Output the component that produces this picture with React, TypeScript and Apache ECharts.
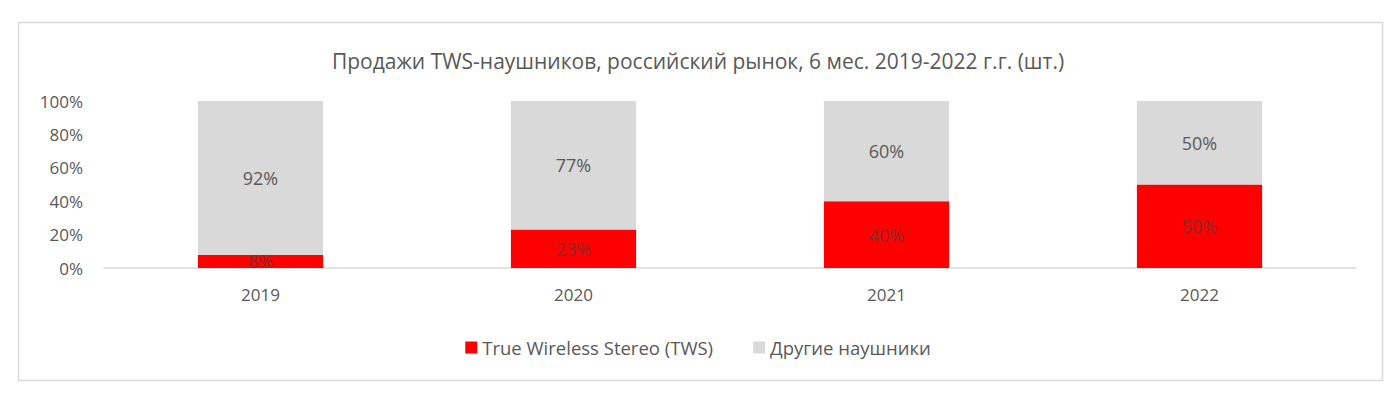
import React, { useEffect, useRef } from "react";
import * as echarts from "echarts";

const categories = ["2019", "2020", "2021", "2022"];
const twsValues = [8, 23, 40, 50];
const otherValues = [92, 77, 60, 50];
const yTicks = [0, 20, 40, 60, 80, 100];

const FONT = "'Open Sans', 'Noto Sans', sans-serif";

export default function App() {
  const ref = useRef<HTMLDivElement>(null);
  useEffect(() => {
    if (!ref.current) return;
    const chart = echarts.init(ref.current, undefined, { renderer: "svg" });
    chart.setOption({
      animation: false,
      backgroundColor: "#ffffff",
      textStyle: { fontFamily: FONT },
      title: {
        text: "Продажи TWS-наушников, российский рынок, 6 мес. 2019-2022 г.г. (шт.)",
        left: "center",
        top: 45,
        textStyle: { fontFamily: FONT, fontSize: 21, fontWeight: "normal", color: "#595959" },
      },
      graphic: [
        {
          type: "rect",
          shape: { x: 18.5, y: 22.5, width: 1364, height: 358 },
          style: { fill: "none", stroke: "#d9d9d9", lineWidth: 1.5 },
          silent: true,
        },
      ],
      legend: {
        bottom: 31,
        left: "center",
        itemWidth: 12,
        itemHeight: 12,
        itemGap: 40,
        icon: "rect",
        textStyle: { fontFamily: FONT, fontSize: 18.5, color: "#595959" },
        data: ["True Wireless Stereo (TWS)", "Другие наушники"],
      },
      grid: { left: 104, right: 40, top: 101, bottom: 125 },
      xAxis: {
        type: "category",
        data: categories,
        axisLine: { lineStyle: { color: "#d9d9d9", width: 1.5 } },
        axisTick: { show: false },
        axisLabel: { fontFamily: FONT, fontSize: 17, color: "#595959", margin: 18 },
      },
      yAxis: {
        type: "value",
        min: yTicks[0],
        max: yTicks[yTicks.length - 1],
        interval: 20,
        splitLine: { show: false },
        axisLine: { show: false },
        axisTick: { show: false },
        axisLabel: {
          fontFamily: FONT,
          fontSize: 17,
          color: "#595959",
          margin: 21,
          formatter: (v: number) => v + "%",
        },
      },
      series: [
        {
          name: "True Wireless Stereo (TWS)",
          type: "bar",
          stack: "total",
          barWidth: "40%",
          data: twsValues,
          itemStyle: { color: "#ff0000" },
          label: {
            show: true,
            position: "inside",
            fontFamily: FONT,
            fontSize: 18,
            color: "#8b2a2a",
            formatter: (p: any) => p.value + "%",
          },
        },
        {
          name: "Другие наушники",
          type: "bar",
          stack: "total",
          barWidth: "40%",
          data: otherValues,
          itemStyle: { color: "#d9d9d9" },
          label: {
            show: true,
            position: "inside",
            fontFamily: FONT,
            fontSize: 18,
            color: "#595959",
            formatter: (p: any) => p.value + "%",
          },
        },
      ],
    });
    return () => chart.dispose();
  }, []);
  return (
    <div
      ref={ref}
      style={{ position: "fixed", left: 0, top: 0, width: 1396, height: 393 }}
    />
  );
}
